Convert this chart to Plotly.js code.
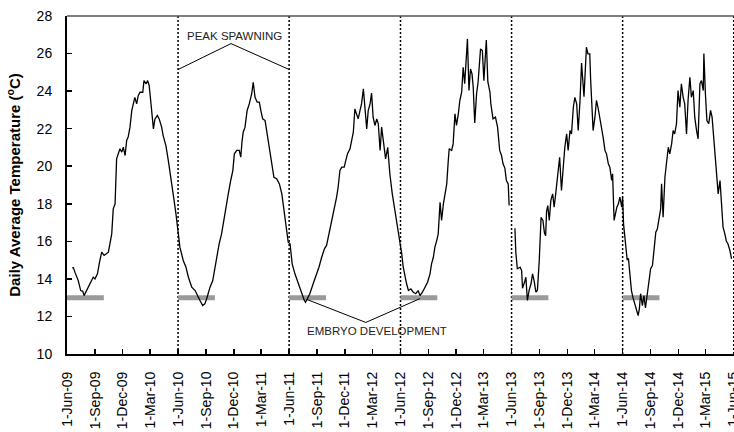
<!DOCTYPE html>
<html>
<head>
<meta charset="utf-8">
<script src="https://cdn.plot.ly/plotly-3.0.1.min.js"></script>
<style>
  html, body { margin: 0; padding: 0; background: #fff; }
  #chart { width: 734px; height: 432px; }
</style>
</head>
<body>
<div id="chart"></div>
<script>
// Daily average water temperature, days counted from 1-Jun-2009
const dayOffset = [
  17, 21, 26, 37, 45, 52, 56, 65, 76, 86, 92, 100, 108, 114, 122, 130, 136, 141, 147, 152,
  158, 163, 169, 174, 180, 185, 191, 196, 201, 207, 213, 218, 223, 229, 234, 240, 249, 253, 260, 265,
  270, 275, 284, 289, 297, 303, 311, 316, 325, 333, 344, 352, 358, 366,
  371, 382, 391, 399, 410, 421, 428, 437, 446, 453, 459, 470, 479, 486, 492, 500, 508, 514, 522, 530,
  538, 545, 550, 558, 566, 571, 575, 579, 585, 592, 599, 607, 612, 618, 625, 632, 637, 643, 651, 656,
  665, 673, 680, 689, 698, 706, 713, 722, 727, 733,
  740, 749, 760, 771, 780, 784, 791, 798, 809, 821, 828, 837, 846, 853, 861, 870, 878, 886, 891, 897,
  903, 911, 916, 922, 930, 935, 941, 946, 952, 957, 963, 968, 974, 979, 985, 990, 996, 1001, 1006, 1012,
  1018, 1023, 1029, 1034, 1039, 1047, 1054, 1061, 1069, 1076, 1083, 1089, 1094, 1100,
  1105, 1111, 1116, 1122, 1130, 1138, 1146, 1154, 1160, 1168, 1176, 1185, 1193, 1198, 1204, 1209, 1215, 1220, 1226, 1231,
  1237, 1242, 1248, 1253, 1256, 1264, 1269, 1275, 1280, 1286, 1291, 1297, 1302, 1307, 1316, 1321, 1326, 1331, 1335, 1340,
  1346, 1351, 1359, 1365, 1370, 1378, 1383, 1390, 1393, 1400, 1408, 1415, 1422, 1428, 1433, 1439, 1444, 1450, 1453,
  1462,
  1472, 1475, 1480, 1489, 1494, 1497, 1505, 1508, 1513, 1519, 1525, 1530, 1535, 1541, 1546, 1552, 1558, 1564, 1569, 1573,
  1576, 1580, 1585, 1590, 1596, 1601, 1606, 1612, 1616, 1619, 1625, 1631, 1636, 1642, 1647, 1653, 1658, 1664, 1669, 1675,
  1680, 1686, 1691, 1699, 1707, 1712, 1718, 1721, 1725, 1729, 1735, 1740, 1745, 1751, 1757, 1762, 1768, 1773, 1779, 1784,
  1790, 1793, 1798, 1803, 1807, 1812, 1817, 1823, 1826,
  1829, 1834, 1841, 1845, 1850, 1855, 1860, 1866, 1872, 1877, 1881, 1885, 1891, 1896, 1901, 1907, 1913, 1918, 1924, 1929,
  1935, 1940, 1946, 1951, 1954, 1959, 1965, 1970, 1976, 1981, 1987, 1992, 1997, 2003, 2008, 2014, 2019, 2025, 2030, 2036,
  2041, 2047, 2052, 2058, 2063, 2069, 2074, 2080, 2085, 2091, 2093, 2098, 2103, 2109, 2115, 2120, 2126, 2131, 2136, 2140,
  2146, 2151, 2156, 2162, 2167, 2172, 2178, 2184
];
const temperature = [
  14.59, 14.6, 14.36, 13.91, 13.38, 13.34, 13.11, 13.38, 13.75, 14.09, 14.0, 14.27, 14.98, 15.42, 15.25, 15.34, 15.42, 15.87, 16.4, 17.73,
  18.0, 20.39, 20.66, 20.93, 20.75, 21.01, 20.57, 21.37, 21.55, 22.08, 22.97, 23.32, 23.67, 23.32, 23.76, 23.94, 23.94, 24.56, 24.39, 24.56,
  24.3, 23.5, 21.99, 22.52, 22.7, 22.52, 22.08, 21.63, 21.1, 20.3, 18.88, 18.17, 17.47, 16.4,
  15.69, 14.98, 14.62, 14.09, 13.56, 13.38, 13.11, 12.85, 12.58, 12.67, 12.94, 13.56, 13.91, 14.62, 15.15, 15.87, 16.4, 17.02, 17.82, 18.53,
  19.24, 19.77, 20.66, 20.84, 20.84, 20.48, 21.28, 21.81, 22.08, 22.97, 23.32, 23.86, 24.47, 23.67, 23.41, 23.41, 22.97, 22.52, 22.43, 21.9,
  20.84, 20.13, 19.41, 19.33, 19.06, 18.53, 17.64, 16.4, 15.95, 15.87,
  14.8, 14.27, 13.74, 13.21, 12.85, 12.76, 12.99, 13.21, 13.74, 14.27, 14.62, 15.15, 15.6, 15.78, 16.4, 16.93, 17.55, 18.35, 18.88, 19.77,
  19.95, 19.95, 20.3, 20.66, 20.93, 21.37, 21.81, 23.05, 22.79, 22.52, 22.97, 23.32, 24.12, 23.32, 21.99, 22.97, 23.32, 23.89, 22.61, 22.17,
  22.52, 22.26, 20.84, 22.08, 21.28, 20.39, 21.01, 19.6, 18.53, 17.82, 16.93, 16.4, 15.95, 15.34,
  14.62, 14.09, 13.74, 13.38, 13.47, 13.29, 13.21, 13.38, 13.11, 13.29, 13.56, 13.82, 14.27, 14.8, 15.15, 15.69, 16.04, 16.4, 18.08, 17.11,
  18.0, 18.53, 19.06, 20.3, 20.93, 20.84, 21.19, 22.79, 22.17, 22.79, 23.5, 23.94, 25.27, 24.39, 26.78, 24.03, 25.18, 24.92, 24.21, 22.3,
  23.86, 24.47, 26.25, 26.16, 24.56, 26.72, 24.5, 23.94, 23.32, 22.52, 22.61, 22.08, 20.84, 20.57, 20.13, 19.9, 19.24, 19.06, 17.91,
  null,
  16.7, 15.4, 14.54, 14.62, 14.45, 13.5, 13.9, 14.09, 12.85, 13.42, 13.74, 14.27, 13.91, 13.29, 13.4, 14.98, 17.28, 17.11, 16.45, 16.3,
  17.6, 17.9, 17.11, 18.17, 18.53, 17.82, 18.53, 19.41, 20.3, 20.48, 18.71, 20.13, 21.01, 21.72, 20.84, 21.9, 21.72, 23.14, 23.67, 23.32,
  21.9, 23.5, 25.5, 23.7, 26.34, 25.98, 25.98, 24.56, 23.5, 21.9, 22.61, 23.5, 23.14, 22.61, 21.9, 21.54, 20.84, 20.66, 20.13, 19.95,
  19.24, 19.6, 17.11, 17.64, 17.82, 18.0, 18.35, 17.82, 18.35,
  16.93, 16.2, 15.0, 15.1, 14.09, 13.38, 13.0, 12.67, 12.32, 12.05, 12.4, 13.21, 12.58, 13.11, 12.45, 13.21, 13.91, 14.54, 14.71, 15.51,
  16.49, 16.65, 17.37, 17.73, 19.06, 17.28, 19.41, 20.3, 21.01, 20.66, 21.19, 21.9, 21.72, 22.26, 24.03, 23.14, 24.39, 23.67, 23.32, 21.72,
  23.5, 24.74, 23.67, 24.03, 22.61, 21.9, 21.46, 24.39, 24.56, 24.03, 26.0, 23.86, 22.43, 22.26, 22.97, 22.61, 21.37, 20.13, 19.6, 18.53,
  19.24, 17.64, 16.75, 16.4, 16.0, 15.87, 15.55, 15.07
];

// Embryo development windows (grey bars at 13 °C)
const embryoStart = ['2009-06-01', '2010-06-01', '2011-06-01', '2012-06-01', '2013-06-01', '2014-06-01'];
const embryoEnd   = ['2009-09-30', '2010-09-30', '2011-09-30', '2012-09-30', '2013-09-30', '2014-09-30'];
const embryoLevel = 13;

// Season boundaries (dotted lines)
const seasonStarts = ['2010-06-01', '2011-06-01', '2012-06-01', '2013-06-01', '2014-06-01', '2015-06-01'];

// Axis ticks
const tickDates = [
  '2009-06-01', '2009-09-01', '2009-12-01', '2010-03-01',
  '2010-06-01', '2010-09-01', '2010-12-01', '2011-03-01',
  '2011-06-01', '2011-09-01', '2011-12-01', '2012-03-01',
  '2012-06-01', '2012-09-01', '2012-12-01', '2013-03-01',
  '2013-06-01', '2013-09-01', '2013-12-01', '2014-03-01',
  '2014-06-01', '2014-09-01', '2014-12-01', '2015-03-01', '2015-06-01'
];
const tickLabels = [
  '1-Jun-09', '1-Sep-09', '1-Dec-09', '1-Mar-10',
  '1-Jun-10', '1-Sep-10', '1-Dec-10', '1-Mar-11',
  '1-Jun-11', '1-Sep-11', '1-Dec-11', '1-Mar-12',
  '1-Jun-12', '1-Sep-12', '1-Dec-12', '1-Mar-13',
  '1-Jun-13', '1-Sep-13', '1-Dec-13', '1-Mar-14',
  '1-Jun-14', '1-Sep-14', '1-Dec-14', '1-Mar-15', '1-Jun-15'
];

// Callout leader lines
const spawnLineX = ['2010-06-01', '2010-11-22', '2011-06-01'];
const spawnLineY = [25.15, 26.53, 25.15];
const embryoLineX = ['2011-07-30', '2012-02-08', '2012-08-04'];
const embryoLineY = [12.9, 11.68, 12.95];

const baseMs = Date.UTC(2009, 5, 1);
const toDate = d => new Date(baseMs + d * 86400000).toISOString().slice(0, 10);
const dates = dayOffset.map(toDate);

const barX = [], barY = [];
embryoStart.forEach((s, i) => {
  barX.push(s, embryoEnd[i], null);
  barY.push(embryoLevel, embryoLevel, null);
});

const font = 'Arial, "Liberation Sans", sans-serif';

const traces = [
  {
    x: barX, y: barY, type: 'scatter', mode: 'lines',
    line: { color: '#9a9a9a', width: 5 }, hoverinfo: 'skip'
  },
  {
    x: dates, y: temperature, type: 'scatter', mode: 'lines',
    line: { color: '#000', width: 1.3 }, connectgaps: false
  },
  {
    x: spawnLineX, y: spawnLineY, type: 'scatter', mode: 'lines',
    line: { color: '#000', width: 1 }, hoverinfo: 'skip'
  },
  {
    x: embryoLineX, y: embryoLineY, type: 'scatter', mode: 'lines',
    line: { color: '#000', width: 1 }, hoverinfo: 'skip'
  }
];

const shapes = seasonStarts.map(d => ({
  type: 'line', xref: 'x', yref: 'paper', x0: d, x1: d, y0: 0, y1: 1,
  line: { color: '#000', width: 1.5, dash: '2px,2px' }, layer: 'below'
}));
shapes.push({
  type: 'line', xref: 'paper', yref: 'paper', x0: 0, x1: 1, y0: 1, y1: 1,
  line: { color: '#555', width: 1.5 }
});

const layout = {
  width: 734, height: 432,
  margin: { l: 67, r: 0, t: 16, b: 78 },
  paper_bgcolor: '#fff', plot_bgcolor: '#fff',
  showlegend: false,
  font: { family: font, color: '#000' },
  xaxis: {
    type: 'date',
    range: ['2009-06-01', '2015-06-02'],
    tickmode: 'array', tickvals: tickDates, ticktext: tickLabels,
    tickangle: -90,
    ticks: 'inside', ticklen: 5, tickwidth: 1.5, tickcolor: '#000',
    tickfont: { family: font, size: 14, color: '#000' },
    ticklabelstandoff: 10,
    ticklabeloverflow: 'allow',
    showline: true, linecolor: '#000', linewidth: 2,
    showgrid: false, zeroline: false
  },
  yaxis: {
    range: [10, 28], dtick: 2, tick0: 10,
    ticks: 'inside', ticklen: 5, tickwidth: 1.5, tickcolor: '#000',
    tickfont: { family: font, size: 14, color: '#000' },
    ticklabelstandoff: 10,
    showline: true, linecolor: '#000', linewidth: 2,
    showgrid: false, zeroline: false,
    title: {
      text: 'Daily Average Temperature (<sup>o</sup>C)',
      font: { family: font, size: 15, color: '#000', weight: 'bold' },
      standoff: 12
    }
  },
  shapes: shapes,
  annotations: [
    {
      x: '2010-12-03', y: 26.96, xref: 'x', yref: 'y', showarrow: false,
      text: 'PEAK SPAWNING', font: { family: font, size: 11.5, color: '#222' }
    },
    {
      x: '2012-03-16', y: 11.25, xref: 'x', yref: 'y', showarrow: false,
      text: 'EMBRYO DEVELOPMENT', font: { family: font, size: 11.5, color: '#222' }
    }
  ]
};

Plotly.newPlot('chart', traces, layout, { staticPlot: true, displayModeBar: false });
</script>
</body>
</html>
